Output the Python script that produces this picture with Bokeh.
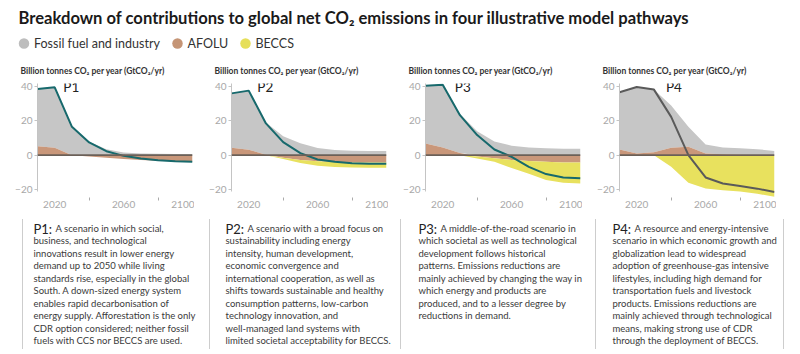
from bokeh.plotting import figure
from bokeh.layouts import column, row
from bokeh.models import Range1d, FixedTicker, ColumnDataSource, Span
from bokeh.core.properties import value
from bokeh.embed import file_html
from bokeh.resources import INLINE

# ---------------- data ----------------
title_text = "Breakdown of contributions to global net CO\u2082 emissions in four illustrative model pathways"
legend_labels = ["Fossil fuel and industry", "AFOLU", "BECCS"]
unit_label = "Billion tonnes CO\u2082 per year (GtCO\u2082/yr)"
pathways = ["P1", "P2", "P3", "P4"]
years = [2010, 2020, 2030, 2040, 2050, 2060, 2070, 2080, 2090, 2100]

p1_fossil = [33.4, 35.2, 16.5, 7.8, 3.5, 1.5, 1.0, 0.8, 0.7, 0.7]
p1_afolu = [5.2, 4.3, 0.0, -0.8, -1.5, -2.2, -2.8, -3.3, -3.6, -3.8]
p1_beccs = [0, 0, 0, 0, 0, 0, 0, 0, 0, 0]
p1_net = [38.6, 39.5, 16.5, 7.4, 2.3, -0.4, -2.0, -3.0, -3.6, -3.9]

p2_fossil = [31.7, 34.4, 18.8, 11.0, 7.0, 4.2, 3.0, 2.6, 2.5, 2.5]
p2_afolu = [4.3, 3.2, 0.2, -1.5, -2.8, -3.6, -4.0, -4.2, -4.3, -4.3]
p2_beccs = [0, 0, 0, -0.8, -1.8, -2.6, -2.9, -3.0, -3.1, -3.1]
p2_net = [36.0, 37.6, 18.5, 7.6, 1.2, -2.5, -3.9, -4.7, -5.0, -5.0]

p3_fossil = [33.7, 36.5, 22.8, 14.0, 8.0, 5.5, 4.5, 4.0, 3.8, 3.8]
p3_afolu = [6.8, 4.5, 1.2, -0.8, -1.8, -2.8, -3.4, -3.9, -4.2, -4.3]
p3_beccs = [0, 0, 0, -1.1, -2.1, -4.7, -7.4, -10.5, -11.8, -12.2]
p3_net = [40.5, 41.0, 23.3, 11.7, 3.3, -1.0, -6.8, -11.0, -13.0, -13.5]

p4_fossil = [33.4, 38.7, 36.5, 24.7, 11.6, 5.2, 3.9, 3.7, 3.5, 2.5]
p4_afolu = [3.3, 1.0, 1.7, 4.3, 4.9, 1.0, 0.6, 0.3, 0.0, -0.4]
p4_beccs = [0, 0, 0, -6.8, -16.0, -19.4, -20.5, -21.2, -22.5, -23.8]
p4_net = [36.7, 39.7, 38.2, 22.3, 0.0, -13.0, -16.5, -18.0, -19.5, -21.5]

y_ticks = [-20, 0, 20, 40]
x_ticks = [2020, 2060, 2100]
x_minor_ticks = [2040, 2080]

p1_text = ["A scenario in which social,", "business, and technological",
           "innovations result in lower energy", "demand up to 2050 while living",
           "standards rise, especially in the global", "South. A down-sized energy system",
           "enables rapid decarbonisation of", "energy supply. Afforestation is the only",
           "CDR option considered; neither fossil", "fuels with CCS nor BECCS are used."]
p2_text = ["A scenario with a broad focus on", "sustainability including energy",
           "intensity, human development,", "economic convergence and",
           "international cooperation, as well as", "shifts towards sustainable and healthy",
           "consumption patterns, low-carbon", "technology innovation, and",
           "well-managed land systems with", "limited societal acceptability for BECCS."]
p3_text = ["A middle-of-the-road scenario in", "which societal as well as technological",
           "development follows historical", "patterns. Emissions reductions are",
           "mainly achieved by changing the way in", "which energy and products are",
           "produced, and to a lesser degree by", "reductions in demand."]
p4_text = ["A resource and energy-intensive", "scenario in which economic growth and",
           "globalization lead to widespread", "adoption of greenhouse-gas intensive",
           "lifestyles, including high demand for", "transportation fuels and livestock",
           "products. Emissions reductions are", "mainly achieved through technological",
           "means, making strong use of CDR", "through the deployment of BECCS."]

# ---------------- styles ----------------
FONT = "Lato"
C_GREY = "#c6c6c6"
C_AFOLU = "#c9977a"
C_BECCS = "#e8e15e"
C_TEAL = "#17696c"
C_P4LINE = "#5a5a5a"
C_ZERO = "#6b6058"
LEG_COLORS = ["#bdbdbd", "#c59576", "#e6df5a"]

W = 800
PW = 194          # panel figure width
HH = 77           # header height

# ---------------- header (title, legend, panel unit labels) ----------------
hdr = figure(width=W, height=HH, x_range=Range1d(0, W), y_range=Range1d(HH, 0),
             output_backend="svg", toolbar_location=None, x_axis_type=None, y_axis_type=None,
             min_border=0, outline_line_color=None)
hdr.grid.visible = False
hdr.text(x=[18], y=[17], text=[title_text], text_font=value(FONT), text_font_style="bold",
         text_font_size="16.6px", text_baseline="middle", text_color="#1a1a1a")
leg_x = [23.5, 177, 245]
hdr.scatter(x=leg_x, y=[43, 43, 43], size=10.5, color=LEG_COLORS, line_color=None)
hdr.text(x=[x + 10 for x in leg_x], y=[43, 43, 43], text=legend_labels, text_font=value(FONT),
         text_font_size="12.5px", text_baseline="middle", text_color="#333333")
unit_x = [20 + i * PW for i in range(len(pathways))]
hdr.text(x=unit_x, y=[70] * len(unit_x), text=[unit_label] * len(unit_x), text_font=value(FONT),
         text_font_size="8.5px", text_font_style="bold", text_baseline="middle",
         text_color="#333333")

# ---------------- panels ----------------
series = [
    (p1_fossil, p1_afolu, p1_beccs, p1_net, C_TEAL, 2025),
    (p2_fossil, p2_afolu, p2_beccs, p2_net, C_TEAL, 2025),
    (p3_fossil, p3_afolu, p3_beccs, p3_net, C_TEAL, 2027),
    (p4_fossil, p4_afolu, p4_beccs, p4_net, C_P4LINE, 2037),
]
panels = []
for name, (fos, afo, bec, net, lc, lx) in zip(pathways, series):
    pos_base = [max(a, 0) for a in afo]
    neg_base = [min(a, 0) for a in afo]
    src = ColumnDataSource(dict(
        year=years,
        g1=pos_base, g2=[b + f for b, f in zip(pos_base, fos)],
        a1=[0] * len(years), a2=afo,
        b1=neg_base, b2=[n + b for n, b in zip(neg_base, bec)],
        net=net))
    p = figure(width=PW, height=137, x_range=Range1d(2010, 2100), y_range=Range1d(-24.66, 41.75),
               output_backend="svg", toolbar_location=None,
               min_border_left=37, min_border_right=2, min_border_top=6, min_border_bottom=17,
               outline_line_color=None)
    p.grid.visible = False

    p.varea(x="year", y1="g1", y2="g2", source=src, fill_color=C_GREY)
    p.varea(x="year", y1="a1", y2="a2", source=src, fill_color=C_AFOLU)
    p.varea(x="year", y1="b1", y2="b2", source=src, fill_color=C_BECCS)
    p.add_layout(Span(location=0, dimension="width", line_color=C_ZERO, line_width=1.6))
    p.line(x="year", y="net", source=src, line_color=lc, line_width=2)
    p.text(x=[lx], y=[39.5], text=[name], text_font=value(FONT), text_font_size="13.5px",
           text_baseline="middle", text_color="#222222")

    p.yaxis.ticker = FixedTicker(ticks=y_ticks)
    p.yaxis.bounds = (-21, 41.5)
    p.yaxis.axis_line_color = "#c4c4c4"
    p.yaxis.major_tick_line_color = "#c4c4c4"
    p.yaxis.major_tick_in = 0
    p.yaxis.major_tick_out = 3
    p.yaxis.minor_tick_line_color = None
    p.yaxis.major_label_standoff = 2
    p.yaxis.major_label_text_color = "#a8a8a8"
    p.yaxis.major_label_text_font = FONT
    p.yaxis.major_label_text_font_size = "10px"

    p.xaxis.ticker = FixedTicker(ticks=x_ticks, minor_ticks=x_minor_ticks)
    p.xaxis.axis_line_color = None
    p.xaxis.major_tick_line_color = None
    p.xaxis.minor_tick_line_color = "#aaaaaa"
    p.xaxis.minor_tick_in = 0
    p.xaxis.minor_tick_out = 3
    p.xaxis.major_label_standoff = -3
    p.xaxis.major_label_text_color = "#a8a8a8"
    p.xaxis.major_label_text_font = FONT
    p.xaxis.major_label_text_font_size = "10px"
    panels.append(p)

# ---------------- descriptions ----------------
BH = 140
bot = figure(width=W, height=BH, x_range=Range1d(0, W), y_range=Range1d(BH, 0),
             output_backend="svg", toolbar_location=None, x_axis_type=None, y_axis_type=None,
             min_border=0, outline_line_color=None)
bot.grid.visible = False
block_x = [33, 225, 418, 612]
sep_x = [22, 209, 400, 595, 783]
line_h = 12.45
first_y = 14
for name, lines, x0 in zip(pathways, [p1_text, p2_text, p3_text, p4_text], block_x):
    bot.text(x=[x0], y=[first_y], text=[name + ":"], text_font=value(FONT), text_font_size="13px",
             text_baseline="middle", text_color="#222222")
    xs = [x0 + 22] + [x0] * (len(lines) - 1)
    ys = [first_y + i * line_h for i in range(len(lines))]
    bot.text(x=xs, y=ys, text=lines, text_font=value(FONT), text_font_size="9.5px",
             text_baseline="middle", text_color="#3a3a3a")
bot.segment(x0=sep_x, y0=[5] * len(sep_x), x1=sep_x, y1=[134] * len(sep_x),
            line_color="#9a9a9a", line_width=1, line_dash="1 1")

layout = column(hdr, row(*panels), bot)
open("out.html", "w").write(file_html(layout, INLINE))
